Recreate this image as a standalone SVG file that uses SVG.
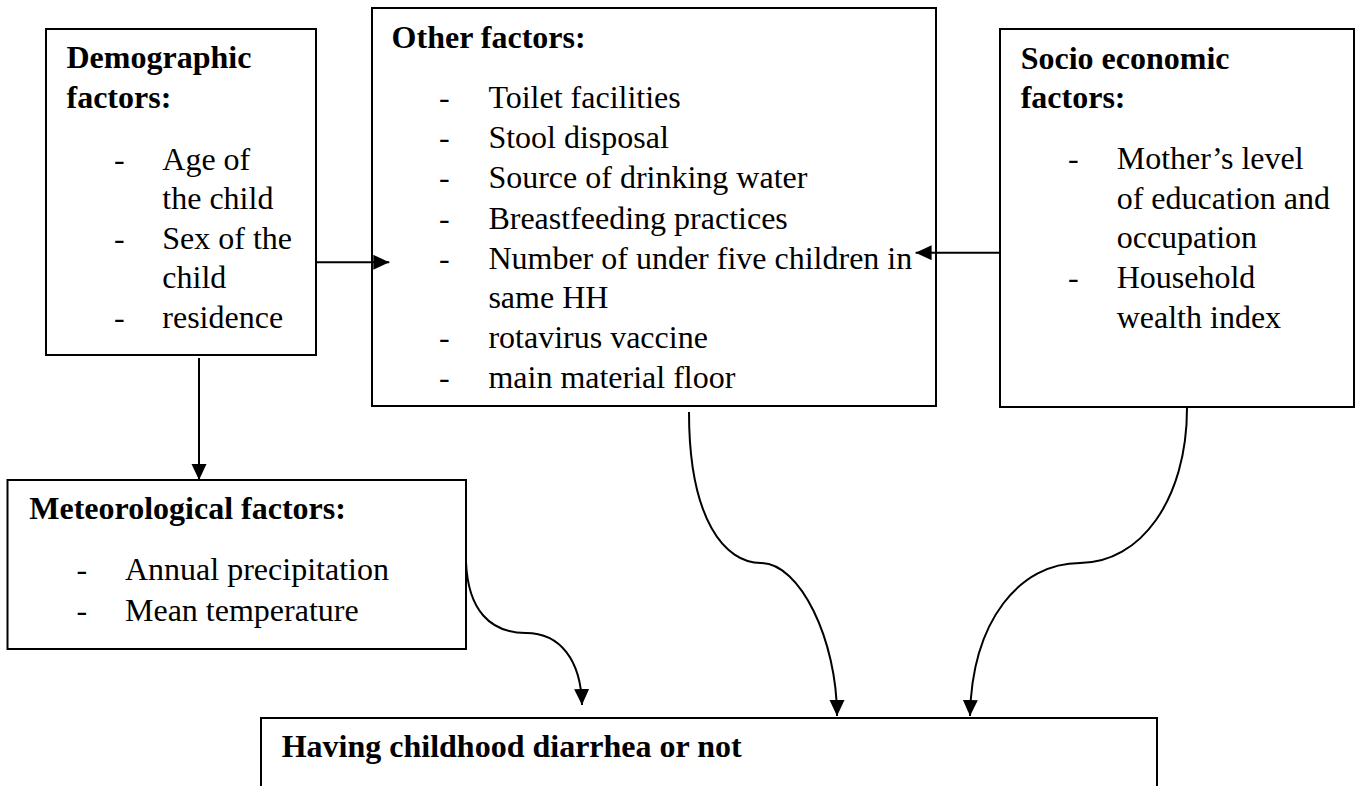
<svg xmlns="http://www.w3.org/2000/svg" width="1355" height="786" viewBox="0 0 1355 786">
<defs>
<style>
.box{fill:#fff;stroke:#000;stroke-width:2}
.t{font-family:"Liberation Serif","Times New Roman",serif;font-size:32px;fill:#000}
.b{font-weight:bold}
.c{fill:none;stroke:#000;stroke-width:2}
</style>
<marker id="ah" markerUnits="userSpaceOnUse" markerWidth="18" markerHeight="16" refX="16" refY="7.5" orient="auto" viewBox="0 0 18 16">
<path d="M0,0 L16,7.5 L0,15 z" fill="#000"/>
</marker>
</defs>
<rect width="1355" height="786" fill="#fff"/>

<g id="demographic">
<rect class="box" x="46" y="29" width="270" height="326"/>
<text class="t b" x="66.5" y="68.3">Demographic</text>
<text class="t b" x="66.5" y="108.3">factors:</text>
<text class="t" x="114" y="170">-</text>
<text class="t" x="162.3" y="170">Age of</text>
<text class="t" x="162.3" y="209.3">the child</text>
<text class="t" x="114" y="249.3">-</text>
<text class="t" x="162.3" y="249.3">Sex of the</text>
<text class="t" x="162.3" y="288.3">child</text>
<text class="t" x="114" y="328.3">-</text>
<text class="t" x="162.3" y="328.3">residence</text>
</g>

<g id="other">
<rect class="box" x="372" y="8" width="564" height="398"/>
<text class="t b" x="391.6" y="48.3">Other factors:</text>
<text class="t" x="439" y="108.3">-</text>
<text class="t" x="488.4" y="108.3">Toilet facilities</text>
<text class="t" x="439" y="148.3">-</text>
<text class="t" x="488.4" y="148.3">Stool disposal</text>
<text class="t" x="439" y="188.3">-</text>
<text class="t" x="488.4" y="188.3">Source of drinking water</text>
<text class="t" x="439" y="229">-</text>
<text class="t" x="488.4" y="229">Breastfeeding practices</text>
<text class="t" x="439" y="269.3">-</text>
<text class="t" x="488.4" y="269.3">Number of under five children in</text>
<text class="t" x="488.4" y="308.3">same HH</text>
<text class="t" x="439" y="348.3">-</text>
<text class="t" x="488.4" y="348.3">rotavirus vaccine</text>
<text class="t" x="439" y="388.3">-</text>
<text class="t" x="488.4" y="388.3">main material floor</text>
</g>

<g id="socio">
<rect class="box" x="1000" y="29" width="354" height="378"/>
<text class="t b" x="1020.7" y="69">Socio economic</text>
<text class="t b" x="1020.7" y="108.3">factors:</text>
<text class="t" x="1068" y="169.3">-</text>
<text class="t" x="1116.7" y="169.3">Mother’s level</text>
<text class="t" x="1116.7" y="209">of education and</text>
<text class="t" x="1116.7" y="248.3">occupation</text>
<text class="t" x="1068" y="288.3">-</text>
<text class="t" x="1116.7" y="288.3">Household</text>
<text class="t" x="1116.7" y="328.3">wealth index</text>
</g>

<g id="meteorological">
<rect class="box" x="7.5" y="480" width="458.5" height="169"/>
<text class="t b" x="29.3" y="519">Meteorological factors:</text>
<text class="t" x="76.5" y="579.5">-</text>
<text class="t" x="125" y="579.5">Annual precipitation</text>
<text class="t" x="76.5" y="620.5">-</text>
<text class="t" x="125" y="620.5">Mean temperature</text>
</g>

<g id="outcome">
<rect class="box" x="261" y="718" width="896" height="100"/>
<text class="t b" x="281.7" y="756.7">Having childhood diarrhea or not</text>
</g>

<g id="connectors">
<path class="c" d="M316,262.3 H389.3" marker-end="url(#ah)"/>
<path class="c" d="M1000,252.7 H915.6" marker-end="url(#ah)"/>
<path class="c" d="M199,358 V480" marker-end="url(#ah)"/>
<path class="c" d="M466,562 C468,610 490,633 526,633 C560,633 581,660 582,705" marker-end="url(#ah)"/>
<path class="c" d="M689,412 C689,520 725,563 761,563 C800,563 837,640 837,716" marker-end="url(#ah)"/>
<path class="c" d="M1187,408 C1187,500 1140,563 1080,563 C1020,563 972,620 970,716" marker-end="url(#ah)"/>
</g>
</svg>
